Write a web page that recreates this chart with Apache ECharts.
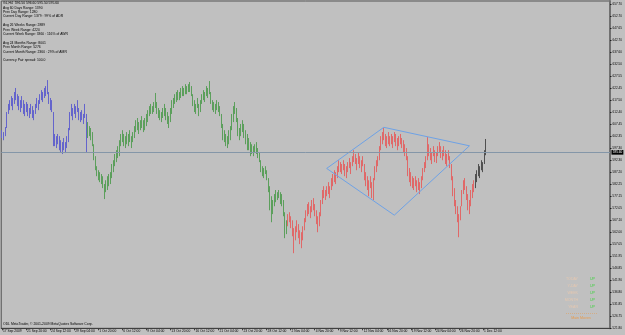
<!DOCTYPE html>
<html><head><meta charset="utf-8">
<script src="https://cdn.jsdelivr.net/npm/echarts@6/dist/echarts.min.js"></script>
<style>html,body{margin:0;padding:0;background:#c0c0c0}#c{width:625px;height:335px}</style>
</head><body><div id="c"></div>
<script>
// ---- data ----
const lows = [
601.6,600.7,602.4,605.8,611.7,613.3,615.0,613.3,615.9,617.5,
615.0,613.3,612.5,614.2,611.7,610.8,612.5,610.8,610.0,611.7,
610.0,609.1,611.7,614.2,613.3,615.9,617.5,616.7,618.4,619.2,
620.0,615.9,613.3,612.5,598.2,598.2,597.4,599.0,596.5,595.7,
594.9,596.5,595.3,597.4,599.9,604.9,610.8,609.1,611.7,610.0,
612.5,609.1,608.3,609.1,607.5,610.0,595.7,
601.6,602.4,600.7,598.2,592.3,588.1,585.6,583.9,583.1,582.3,
580.6,576.0,578.9,579.8,581.4,582.3,584.8,587.3,589.8,591.5,
593.2,594.0,598.2,599.9,598.2,597.4,599.0,598.2,599.9,597.4,
599.9,601.6,604.1,604.9,603.3,604.9,605.8,604.1,604.9,606.6,
608.3,610.8,611.7,611.7,612.5,614.2,611.7,610.0,609.1,608.3,
610.0,610.8,609.1,607.5,605.8,608.3,611.7,614.2,615.9,616.7,
617.5,617.5,618.4,619.2,619.2,620.0,620.0,620.9,620.9,619.2,
615.0,612.5,611.7,614.2,610.8,612.5,615.9,617.5,616.7,619.2,
618.4,620.0,615.9,613.3,612.5,611.7,613.3,612.5,610.8,605.8,
600.7,599.9,598.2,597.4,599.0,600.7,604.9,608.3,611.7,608.3,
602.4,600.7,602.4,604.1,601.6,599.0,596.5,596.5,594.0,594.9,
594.0,595.7,594.9,593.2,591.5,587.3,585.6,584.8,586.5,583.9,
578.9,571.3,566.3,569.7,573.0,574.7,575.6,576.4,573.9,573.0,
568.8,559.6,561.3,
564.6,566.3,563.8,560.4,553.3,558.7,562.1,559.6,557.1,555.4,
558.7,562.9,566.3,568.8,569.7,568.0,570.5,571.3,568.8,565.5,
562.1,564.6,568.8,573.9,576.4,575.6,577.2,578.1,576.4,579.8,
581.4,583.1,582.3,584.8,587.3,587.3,586.5,588.1,585.6,584.8,
587.3,589.0,586.5,589.8,591.5,590.7,588.1,590.7,589.0,587.3,
589.8,583.9,581.4,579.8,577.2,580.6,576.4,575.6,583.9,587.3,
589.8,592.3,596.5,599.0,600.7,598.2,597.4,599.0,598.2,599.0,
597.4,599.9,598.2,596.5,598.2,599.0,597.4,595.7,594.0,592.3,
585.6,583.1,581.4,580.6,579.8,581.4,578.9,579.8,578.1,580.6,
583.9,587.3,589.0,592.3,594.0,592.3,590.7,594.0,591.5,591.1,
594.0,595.7,593.2,592.3,594.0,590.7,589.8,592.3,589.0,583.9,
577.2,573.0,569.7,566.3,560.0,567.1,573.0,578.1,579.8,575.6,
571.3,569.7,573.0,576.4,578.9,
580.6,583.1,585.6,584.8,588.1,587.3,590.7,594.4
];
const highs = [
604.9,604.1,606.2,612.5,615.9,617.5,619.2,618.4,620.9,622.6,
620.0,619.2,617.5,619.2,617.5,615.9,616.7,615.9,614.2,615.9,
615.0,613.3,615.9,618.4,617.5,620.0,621.7,620.9,622.6,623.4,
625.9,620.9,618.4,617.5,612.5,603.3,602.4,603.3,602.4,600.7,
599.9,601.6,599.9,602.4,605.8,612.5,615.9,614.2,615.9,615.0,
617.5,614.2,612.5,613.3,611.7,615.9,611.7,
608.3,606.6,605.8,604.1,599.0,594.0,589.8,588.1,587.3,586.5,
585.6,582.3,583.9,585.6,586.5,587.3,590.7,592.3,594.9,596.5,
598.2,600.7,603.3,604.9,603.3,602.4,604.1,603.3,604.9,602.4,
604.1,606.6,609.1,610.0,608.3,609.1,610.8,609.1,610.0,611.7,
613.3,615.0,615.9,615.0,616.7,620.5,616.7,614.2,613.3,612.5,
614.2,615.9,614.2,612.5,610.8,614.2,617.5,618.4,620.0,620.9,
621.7,620.9,622.6,623.4,622.6,624.2,623.4,624.2,625.1,623.4,
620.0,617.5,615.9,618.4,615.9,617.5,620.0,621.7,620.9,623.4,
622.6,625.5,620.9,617.5,616.7,615.9,617.5,616.7,615.0,611.7,
607.5,604.9,603.3,602.4,604.9,606.6,611.7,615.0,616.7,614.2,
610.0,605.8,607.5,609.1,607.5,604.9,603.3,601.6,599.9,599.0,
598.2,599.0,599.9,597.4,595.7,592.3,589.8,589.0,589.8,588.1,
584.8,581.4,577.2,575.6,578.1,579.8,578.9,579.8,578.9,578.1,
575.6,570.5,567.1,
569.7,570.5,568.8,567.1,563.8,564.6,567.1,565.5,562.9,562.1,
564.6,568.0,571.3,573.9,574.7,573.0,575.6,576.4,573.9,571.3,
568.8,570.5,575.6,579.8,581.4,579.8,581.4,583.1,581.4,584.8,
586.5,588.1,587.3,589.8,592.3,591.5,590.7,592.3,590.7,589.8,
591.5,593.2,591.5,594.0,596.5,594.9,593.2,595.7,594.0,592.3,
594.0,590.7,587.3,585.6,583.9,585.6,583.1,584.8,589.8,592.3,
594.0,598.2,602.4,604.1,605.8,603.3,602.4,604.1,602.4,603.3,
602.4,604.1,603.3,601.6,602.4,603.3,601.6,600.7,599.0,597.4,
594.0,589.0,587.3,585.6,584.8,585.6,583.9,584.8,583.1,585.6,
589.0,591.5,594.0,602.0,599.0,597.4,595.7,598.2,596.5,595.7,
598.2,599.9,598.2,596.5,598.2,596.5,594.9,596.5,594.0,590.7,
585.6,580.6,575.6,573.0,569.7,573.0,579.8,583.9,584.8,581.4,
578.1,575.6,579.8,582.3,583.9,
586.5,588.1,590.7,589.8,592.3,591.5,596.5,601.2
];
const slotCount = 405;
const xTickLabels = ['17 Sep 2009','21 Sep 20:00','24 Sep 12:00','29 Sep 04:00','1 Oct 20:00','6 Oct 12:00','9 Oct 04:00','13 Oct 20:00','16 Oct 12:00','21 Oct 04:00','23 Oct 20:00','28 Oct 12:00','2 Nov 04:00','4 Nov 20:00','9 Nov 12:00','12 Nov 04:00','16 Nov 20:00','19 Nov 12:00','24 Nov 04:00','26 Nov 20:00','1 Dec 12:00'];
const yTickValues = [657.70,652.70,647.65,642.70,637.60,632.50,627.55,622.45,617.50,612.40,607.45,602.35,597.30,592.30,587.20,582.25,577.15,572.05,567.10,562.00,557.05,551.95,546.85,541.90,536.80,531.85,526.75,521.80];
const lastPrice = 595.60;
const diamond = [[216,588.85],[254,606.1],[311,598.34],[261,569.25],[216,588.85]];
const infoLines = ['GL,H4  596.50 596.60 595.50 595.60','Avg 60 Days Range: 1390','Prev Day Range: 1280','Current Day Range: 1379 : 99% of ADR','','Avg 26 Weeks Range: 2889','Prev Week Range: 4220','Current Week Range: 3360 : 116% of AWR','','Avg 24 Months Range: 8001','Prev Month Range: 5276','Current Month Range: 2360 : 29% of AMR','','Currency Pair spread: 100.0'];
const moveNames = ['TODAY','Y-DAY','WEEK','MONTH','YEAR'];
const moveValues = ['UP','UP','UP','UP','UP'];
const footer = 'ODL MetaTrader, \u00a9 2001-2009 MetaQuotes Software Corp.';

// ---- style ----
const colorStarts = [[0,'#6464cc'],[57,'#5c9f5c'],[190,'#e06868'],[315,'#505050']];
function barColor(i){let c=colorStarts[0][1];for(const s of colorStarts){if(i>=s[0])c=s[1];}return c;}
const FONT = 'Liberation Sans';
const categories = Array.from({length: slotCount}, (_, i) => String(i));
const bars = lows.map((l, i) => [i, l, highs[i]]);

const chart = echarts.init(document.getElementById('c'), null, {renderer:'canvas'});
const graphics = [
  {type:'text', left:3, top:1.1, style:{text:infoLines.join('\n'), font:'3.4px "'+FONT+'"', lineHeight:4.4, fill:'#000'}},
  {type:'text', left:3, top:323, style:{text:footer, font:'3.4px "'+FONT+'"', fill:'#000'}}
];
const moveY = [279, 285.8, 292.6, 299.8, 306.8];
moveNames.forEach((n, k) => {
  graphics.push({type:'text', x:578, y:moveY[k], style:{text:n, font:'3.6px "'+FONT+'"', fill:'#e6c8b0', align:'right', verticalAlign:'middle'}});
  graphics.push({type:'text', x:590, y:moveY[k], style:{text:moveValues[k], font:'3.6px "'+FONT+'"', fill:'#3fd23f', align:'left', verticalAlign:'middle'}});
});
graphics.push({type:'line', shape:{x1:566, y1:313.5, x2:598, y2:313.5}, style:{stroke:'#e0a060', lineWidth:0.6, lineDash:[1,1]}});
graphics.push({type:'text', x:581, y:318, style:{text:'Main Moves', font:'3.6px "'+FONT+'"', fill:'#e89a4a', align:'center', verticalAlign:'middle'}});

chart.setOption({
  animation:false,
  backgroundColor:'#c0c0c0',
  grid:{left:1, right:15, top:1, bottom:6.7, show:true, borderColor:'#555', borderWidth:1, backgroundColor:'#c0c0c0'},
  xAxis:{type:'category', data:categories, boundaryGap:true,
    axisLine:{lineStyle:{color:'#404040', width:1}},
    axisTick:{show:true, alignWithLabel:true, length:2, lineStyle:{color:'#404040'}, interval:(idx)=> idx%16===0 && idx/16 < xTickLabels.length},
    axisLabel:{interval:(idx)=> idx%16===0 && idx/16 < xTickLabels.length, formatter:(v, idx)=> xTickLabels[idx/16] || '', align:'left', margin:1, padding:[0,0,0,1], fontSize:3.3, fontFamily:FONT, color:'#000'},
    splitLine:{show:false}},
  yAxis:{type:'value', position:'right', min:521.80, max:659.08, scale:true,
    axisLine:{show:true, lineStyle:{color:'#707070', width:2}},
    axisTick:{show:true, length:1.5, customValues:yTickValues, lineStyle:{color:'#202020'}},
    axisLabel:{customValues:yTickValues, formatter:(v)=>v.toFixed(2), fontSize:3.1, fontFamily:FONT, color:'#000', margin:2.5},
    splitLine:{show:false}},
  graphic:graphics,
  series:[
    {type:'custom', data:bars, encode:{x:0, y:[1,2]}, clip:true,
     renderItem:function(params, api){
       const i = api.value(0);
       const lo = api.coord([i, api.value(1)]);
       const hi = api.coord([i, api.value(2)]);
       const x = Math.floor(lo[0]) + 0.5;
       return {type:'line', shape:{x1:x, y1:lo[1], x2:x, y2:hi[1]}, style:{stroke:barColor(i), lineWidth:1}};
     }},
    {type:'line', data:diamond, symbol:'none', lineStyle:{color:'#6ea2e6', width:1}, silent:true,
     markLine:{silent:true, symbol:'none', data:[{yAxis:lastPrice}], lineStyle:{color:'#8496a8', width:1, type:'solid'},
       label:{show:true, position:'end', formatter:lastPrice.toFixed(2), backgroundColor:'#000', color:'#fff', fontSize:3.1, fontFamily:FONT, padding:[0.8,1.2], distance:1.5}}}
  ]
});
</script></body></html>
